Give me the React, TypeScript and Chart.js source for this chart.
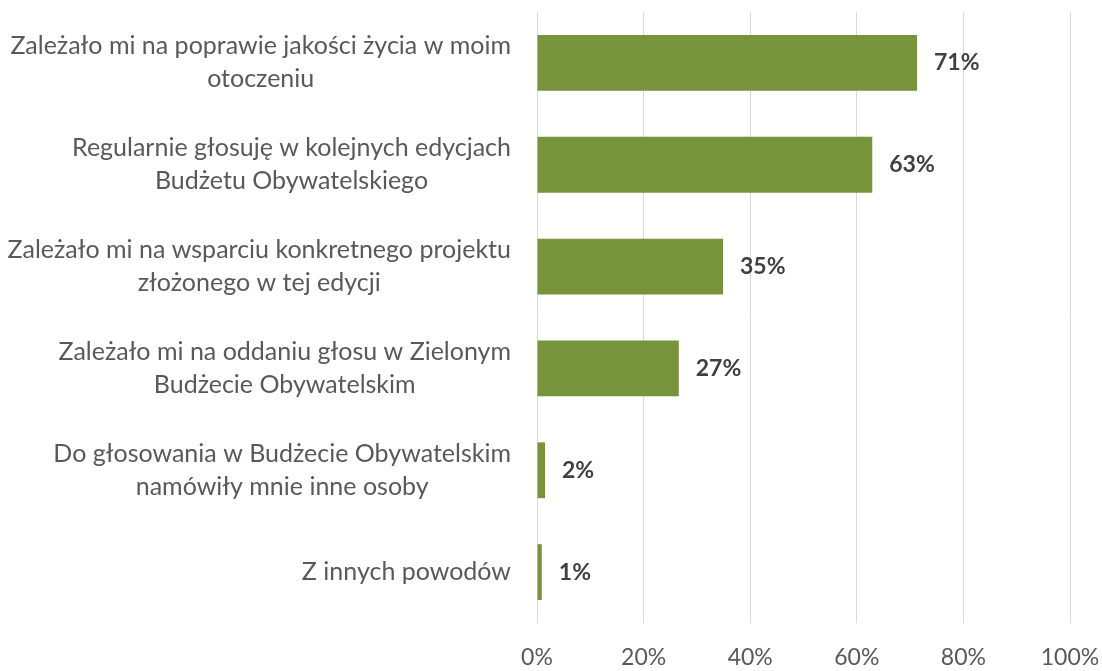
import React, { useEffect, useRef } from "react";
import { Chart, registerables } from "chart.js";

Chart.register(...registerables);

const categories: string[][] = [
  ["Zależało mi na poprawie jakości życia w moim", "otoczeniu"],
  ["Regularnie głosuję w kolejnych edycjach", "Budżetu Obywatelskiego"],
  ["Zależało mi na wsparciu konkretnego projektu", "złożonego w tej edycji"],
  ["Zależało mi na oddaniu głosu w Zielonym", "Budżecie Obywatelskim"],
  ["Do głosowania w Budżecie Obywatelskim", "namówiły mnie inne osoby"],
  ["Z innych powodów"],
];
const values = [71.3, 62.9, 34.9, 26.6, 1.5, 0.9];
const valueLabels = ["71%", "63%", "35%", "27%", "2%", "1%"];
const xMin = 0;
const xMax = 100;
const xStep = 20;

const FONT = "Lato, 'Noto Sans', sans-serif";
const CAT_SIZE = 25;
const NUM_SIZE = 23;
const LINE_SPACING = 33;

const catLabelPlugin = {
  id: "catLabels",
  afterDraw(chart: any) {
    const ctx = chart.ctx;
    const yScale = chart.scales.y;
    const area = chart.chartArea;
    ctx.save();
    ctx.font = `${CAT_SIZE}px ${FONT}`;
    ctx.fillStyle = "#595959";
    ctx.textBaseline = "middle";
    ctx.textAlign = "center";
    categories.forEach((lines, i) => {
      const cy = yScale.getPixelForValue(i);
      const w = Math.max(...lines.map((l) => ctx.measureText(l).width));
      const cx = area.left - 26 - w / 2;
      lines.forEach((l, j) => {
        ctx.fillText(l, cx, cy + (j - (lines.length - 1) / 2) * LINE_SPACING);
      });
    });
    ctx.restore();
  },
};

const valueLabelPlugin = {
  id: "valueLabels",
  afterDatasetsDraw(chart: any) {
    const ctx = chart.ctx;
    const meta = chart.getDatasetMeta(0);
    ctx.save();
    ctx.font = `bold ${NUM_SIZE}px ${FONT}`;
    ctx.fillStyle = "#404040";
    ctx.textBaseline = "middle";
    ctx.textAlign = "left";
    meta.data.forEach((bar: any, i: number) => {
      ctx.fillText(valueLabels[i], bar.x + 17, bar.y);
    });
    ctx.restore();
  },
};

export default function App() {
  const ref = useRef<HTMLCanvasElement | null>(null);
  useEffect(() => {
    document.body.style.margin = "0";
    if (!ref.current) return;
    const chart = new Chart(ref.current, {
      type: "bar",
      data: {
        labels: categories.map((c) => c.join(" ")),
        datasets: [
          {
            data: values,
            backgroundColor: "#77933C",
            borderWidth: 0,
            categoryPercentage: 1,
            barPercentage: 0.548,
          },
        ],
      },
      options: {
        indexAxis: "y",
        responsive: false,
        animation: false,
        layout: { padding: { left: 0, top: 12, right: 32, bottom: 0 } },
        plugins: {
          legend: { display: false },
          tooltip: { enabled: false },
        },
        scales: {
          x: {
            min: xMin,
            max: xMax,
            ticks: {
              stepSize: xStep,
              callback: (v: any) => `${v}%`,
              font: { family: FONT, size: NUM_SIZE },
              color: "#595959",
              padding: 21,
              maxRotation: 0,
              autoSkip: false,
            },
            grid: { color: "#d9d9d9", lineWidth: 1, drawTicks: false },
            border: { display: false },
            afterFit: (scale: any) => {
              scale.height = 48;
              scale.paddingLeft = 0;
              scale.paddingRight = 0;
            },
          },
          y: {
            ticks: { display: false },
            grid: { display: false, drawTicks: false },
            border: { display: false },
            afterFit: (scale: any) => {
              scale.width = 537;
            },
          },
        },
      },
      plugins: [catLabelPlugin, valueLabelPlugin],
    });
    return () => chart.destroy();
  }, []);
  return <canvas ref={ref} width={1102} height={671} style={{ display: "block" }} />;
}
